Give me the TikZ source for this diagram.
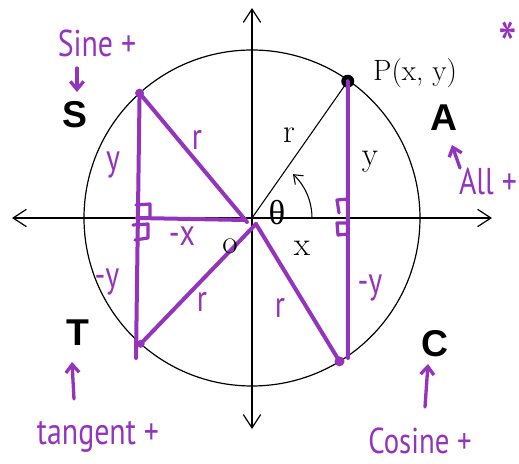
\documentclass[tikz,border=0pt]{standalone}
\usepackage{fontspec}
\usepackage{tikz}
\usetikzlibrary{arrows.meta}
\newfontfamily\handfont[FakeStretch=0.8]{PT Sans}
\newfontfamily\signfont{Liberation Sans}
\newfontfamily\greekfont{Liberation Serif}
\definecolor{marker}{RGB}{148,52,188}

\begin{document}
\begin{tikzpicture}[x=0.75pt,y=0.75pt,
  axis/.style={line width=0.9pt,
    {Straight Barb[length=10pt,width=13pt]}-{Straight Barb[length=10pt,width=13pt]}},
  pen/.style={draw=marker,line width=3pt,line cap=round,line join=round},
  corner/.style={pen,line width=2.4pt},
  quadrant/.style={font=\signfont\bfseries\fontsize{28}{30}\selectfont},
  lbl/.style={font=\fontsize{25}{27}\selectfont},
  hand/.style={text=marker,font=\handfont\fontsize{28}{30}\selectfont},
  handarrow/.style={pen,line width=2.5pt,-{Straight Barb[length=6pt,width=10pt]}}
]
  \useasboundingbox (-252,-246) rectangle (267,218);
  \coordinate (O) at (0,0);
  \coordinate (P) at (55:167);
  \coordinate (S) at (132:168);
  \coordinate (T) at (228.5:168);
  \coordinate (C) at (-58.6:168);
  \coordinate (xl) at (-240,0);
  \coordinate (xr) at (240,0);
  \coordinate (yt) at (0,210);
  \coordinate (yb) at (0,-211);
  \coordinate (Pf) at (P |- O);
  \coordinate (Oh) at (4,-6);
  \coordinate (Sx) at (-5,-4);
  \coordinate (Sf) at (-115,0);
  \coordinate (Se) at (-7,-2);
  \coordinate (Sb) at (-116,-140);
  \coordinate (Pb) at (96,-140);

  \draw[axis] (xl) -- (xr);
  \draw[axis] (yb) -- (yt);
  \draw[line width=0.9pt] (O) circle (168);
  \draw[line width=0.8pt] (O) -- (P);
  \draw[line width=0.8pt,dashed] ([xshift=1.5]P) -- ([xshift=1.5,yshift=14]Pf);
  \draw[line width=0.8pt,-{Straight Barb[length=6pt,width=9pt]}]
    (60,0) arc[start angle=0,end angle=47,radius=60];
  \fill (P) circle (6.5);

  \draw[pen] (S) -- (Sb);
  \draw[pen] (S) -- (Sx);
  \draw[pen] (Sf) -- (Se);
  \draw[pen] (Oh) -- (T);
  \draw[pen] (Oh) -- (C);
  \draw[pen] (P) -- (Pb);
  \draw[corner] (-116,13) -- (-102,14) -- (-102,0);
  \draw[corner] (-119,-7) -- (-104,-6) -- (-104,-20) -- (-117,-22);
  \draw[corner] (96,19) -- (85,18) -- (87,5);
  \draw[corner] (96,-5) -- (85,-5) -- (86,-17) -- (96,-16);
  \fill[marker] (S) circle (4.5);
  \fill[marker] (T) circle (4);
  \fill[marker] (C) circle (5);

  \node[quadrant] (lS) at (-177,103) {S};
  \node[quadrant] (lA) at (192,100) {A};
  \node[quadrant] (lT) at (-174,-115) {T};
  \node[quadrant] (lC) at (183,-126) {C};

  \node[font=\fontsize{22}{24}\selectfont] (lP) at (163,145) {P(x, y)};
  \node[lbl] (lr) at (37,83) {r};
  \node[lbl] (ly) at (118,56) {y};
  \node[lbl,font=\greekfont\fontsize{26}{28}\selectfont] (lth) at (25,5) {θ};
  \node[lbl] (lx) at (50,-30) {x};
  \node[lbl] (lo) at (-22,-28) {o};

  \node[hand] (sine) at (-155,175) {Sine +};
  \node[hand] (all) at (236,37) {All +};
  \node[hand] (tangent) at (-154,-219) {tangent +};
  \node[hand,font=\handfont\fontsize{27}{29}\selectfont] (cosine) at (168,-223) {Cosine +};
  \node[hand,font=\handfont\fontsize{50}{50}\selectfont] (star) at (256,172) {*};
  \node[hand] (hy) at (-139,53) {y};
  \node[hand] (hr1) at (-55,78) {r};
  \node[hand] (hx) at (-70,-18) {-x};
  \node[hand] (hy2) at (-145,-64) {-y};
  \node[hand] (hr2) at (-50,-84) {r};
  \node[hand] (hr3) at (28,-90) {r};
  \node[hand] (hy3) at (118,-70) {-y};

  \coordinate (sa) at (-175,150);
  \coordinate (sb) at (-175,126);
  \coordinate (aa) at (208,50);
  \coordinate (ab) at (200,73);
  \coordinate (ta) at (-178,-181);
  \coordinate (tb) at (-180,-144);
  \coordinate (ca) at (173,-189);
  \coordinate (cb) at (176,-146);
  \draw[handarrow] (sa) -- (sb);
  \draw[handarrow] (aa) -- (ab);
  \draw[handarrow] (ta) -- (tb);
  \draw[handarrow] (ca) -- (cb);
\end{tikzpicture}
\end{document}
